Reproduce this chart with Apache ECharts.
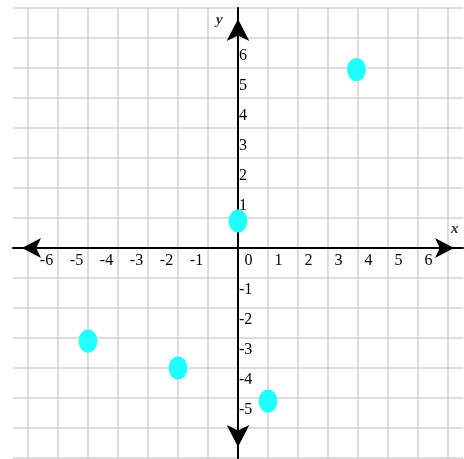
<!DOCTYPE html>
<html>
<head>
<meta charset="utf-8">
<script src="https://cdn.jsdelivr.net/npm/echarts@6/dist/echarts.min.js"></script>
<style>
  html, body { margin: 0; padding: 0; background: #fff; }
  #chart { width: 464px; height: 459px; }
</style>
</head>
<body>
<div id="chart"></div>
<script>
  // points
  const pointX = [3.95, 0, -5, -2, 1]
  const pointY = [5.95, 0.9, -3.1, -4, -5.1]
  const xTickLabels = [-6, -5, -4, -3, -2, -1, 0, 1, 2, 3, 4, 5, 6]
  const yTickLabels = [-5, -4, -3, -2, -1, 1, 2, 3, 4, 5, 6]

  const labelFont = 'Liberation Serif, Times New Roman, serif'
  const gridColor = '#d2d2d2'

  const chart = echarts.init(document.getElementById('chart'))
  chart.setOption({
    animation: false,
    grid: { left: 13, top: 8, width: 450, height: 450, containLabel: false, outerBoundsMode: 'none' },
    xAxis: {
      type: 'value',
      min: -7.5,
      max: 7.5,
      interval: 0.5,
      position: 'bottom',
      offset: -210, // 7 units up from the bottom edge -> y = 0
      axisLine: {
        onZero: false,
        symbol: ['arrow', 'arrow'],
        symbolSize: [15, 19],
        symbolOffset: [9, -9],
        lineStyle: { color: '#000', width: 2 }
      },
      axisTick: { show: false },
      axisLabel: {
        margin: 5,
        color: '#000',
        fontFamily: labelFont,
        fontSize: 16,
        formatter: function (v) {
          if (xTickLabels.indexOf(v) < 0) return ''
          if (v < 0) return '{n|' + v + '}{g| }'
          return '{g2| }{p|' + v + '}'
        },
        rich: {
          n: { width: 17, align: 'right', fontFamily: labelFont, fontSize: 16, color: '#000' },
          g: { width: 23, fontFamily: labelFont, fontSize: 16 },
          g2: { width: 21, fontFamily: labelFont, fontSize: 16 },
          p: { width: 19, align: 'left', fontFamily: labelFont, fontSize: 16, color: '#000' }
        }
      },
      splitLine: {
        show: true,
        // ticks every 0.5 from -7.5, only the whole numbers get a line
        lineStyle: { color: ['rgba(0,0,0,0)', gridColor], width: 1.5 }
      }
    },
    yAxis: {
      type: 'value',
      min: -7,
      max: 8,
      interval: 1,
      position: 'left',
      offset: -225, // 7.5 units in from the left edge -> x = 0
      axisLine: {
        onZero: false,
        symbol: ['arrow', 'arrow'],
        symbolSize: [17, 22],
        symbolOffset: [11, -11],
        lineStyle: { color: '#000', width: 2 }
      },
      axisTick: { show: false },
      axisLabel: {
        inside: true,
        margin: 1,
        color: '#000',
        fontFamily: labelFont,
        fontSize: 16,
        lineHeight: 24,
        formatter: function (v) {
          if (yTickLabels.indexOf(v) < 0) return ''
          if (v > 0) return v + '\n '
          return ' \n' + v
        }
      },
      splitLine: {
        show: true,
        lineStyle: { color: gridColor, width: 1.5 }
      }
    },
    graphic: [
      {
        type: 'text',
        left: 216,
        top: 13,
        style: { text: 'y', font: 'italic bold 15px "Liberation Serif"', fill: '#333' }
      },
      {
        type: 'text',
        left: 451,
        top: 222,
        style: { text: 'x', font: 'italic bold 15px "Liberation Serif"', fill: '#333' }
      }
    ],
    series: [
      {
        type: 'scatter',
        symbol: 'circle',
        symbolSize: [19, 23],
        itemStyle: { color: '#22ffff', opacity: 1 },
        data: pointX.map((x, i) => [x, pointY[i]])
      }
    ]
  })
</script>
</body>
</html>
